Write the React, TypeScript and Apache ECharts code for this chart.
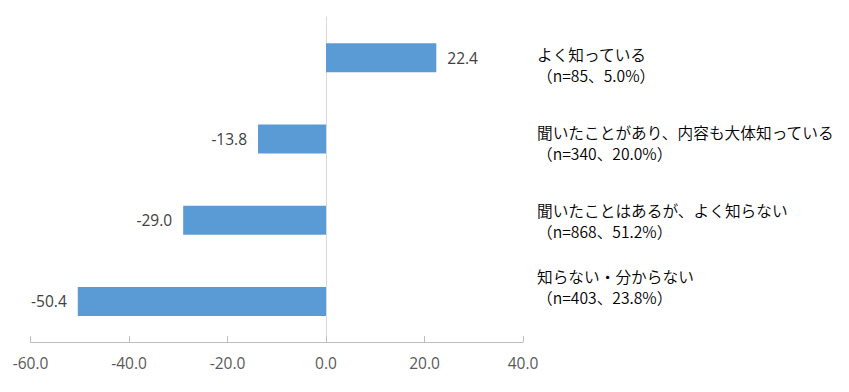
import React, { useEffect, useRef } from "react";
import * as echarts from "echarts";

const categories = [
  "よく知っている",
  "聞いたことがあり、内容も大体知っている",
  "聞いたことはあるが、よく知らない",
  "知らない・分からない",
];
const subLabels = [
  "（n=85、5.0%）",
  "（n=340、20.0%）",
  "（n=868、51.2%）",
  "（n=403、23.8%）",
];
const values = [22.4, -13.8, -29.0, -50.4];
const xTicks = { min: -60, max: 40, interval: 20 };

// layout: vertical shift of each right-hand label block relative to its bar centre (px)
const labelShift = [7.5, 3.7, 1.2, -14.5];

const FONT = "'Noto Sans CJK JP', 'Noto Sans', sans-serif";
const NUMFONT = "'Open Sans', 'Noto Sans', sans-serif";

export default function App() {
  const ref = useRef<HTMLDivElement>(null);
  useEffect(() => {
    if (!ref.current) return;
    const chart = echarts.init(ref.current, null, { renderer: "svg" });
    chart.setOption({
      animation: false,
      textStyle: { fontFamily: FONT },
      grid: { left: 22.5, right: 318, top: 9, bottom: 42, containLabel: false },
      xAxis: {
        type: "value",
        min: xTicks.min,
        max: xTicks.max,
        interval: xTicks.interval,
        axisLine: { show: true, lineStyle: { color: "#bfbfbf", width: 1 } },
        axisTick: { show: true, inside: true, length: 6, lineStyle: { color: "#bfbfbf" } },
        splitLine: { show: false },
        axisLabel: {
          color: "#595959",
          fontSize: 15.5,
          margin: 13,
          fontFamily: NUMFONT,
          formatter: (v: number) => v.toFixed(1),
        },
      },
      yAxis: {
        type: "category",
        data: categories,
        inverse: true,
        axisLine: { show: true, onZero: true, lineStyle: { color: "#d9d9d9" } },
        axisTick: { show: false },
        axisLabel: { show: false },
        splitLine: { show: false },
      },
      series: [
        {
          type: "bar",
          barWidth: 29,
          itemStyle: { color: "#5b9bd5" },
          data: values.map((v) => ({
            value: v,
            label: {
              show: true,
              position: v >= 0 ? "right" : "left",
              distance: 11,
              color: "#404040",
              fontSize: 15.5,
              fontFamily: NUMFONT,
              formatter: (p: any) => Number(p.value).toFixed(1),
            },
          })),
        },
      ],
    });
    const xRight = chart.convertToPixel({ xAxisIndex: 0 }, xTicks.max) as number;
    const elements = categories.map((c, i) => {
      const y = chart.convertToPixel({ yAxisIndex: 0 }, c) as number;
      return {
        type: "text",
        x: xRight + 14,
        y: y + labelShift[i],
        style: {
          text: c + "\n" + subLabels[i],
          fill: "#000000",
          font: `350 15.7px ${FONT}`,
          lineHeight: 21,
          align: "left",
          verticalAlign: "middle",
        },
      };
    });
    chart.setOption({ graphic: { elements } });
    return () => chart.dispose();
  }, []);
  return <div ref={ref} style={{ width: 833, height: 376 }} />;
}
